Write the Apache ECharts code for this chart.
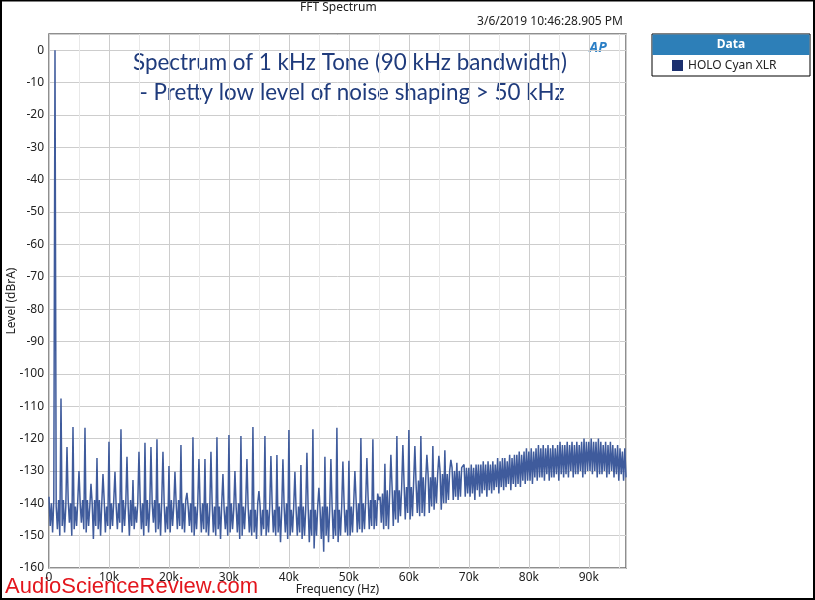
<!DOCTYPE html>
<html>
<head>
<meta charset="utf-8">
<title>FFT Spectrum</title>
<script src="https://cdn.jsdelivr.net/npm/echarts/dist/echarts.min.js"></script>
<style>
  html, body { margin: 0; padding: 0; background: #fff; }
  #chart { width: 815px; height: 600px; }
</style>
</head>
<body>
<div id="chart"></div>
<script>
// FFT of a 1 kHz tone, levels in dBrA, one value every 200 Hz
const binHz = 200
const yTicks = [-160, -150, -140, -130, -120, -110, -100, -90, -80, -70, -60, -50, -40, -30, -20, -10, 0]
const xTicks = ['0', '10k', '20k', '30k', '40k', '50k', '60k', '70k', '80k', '90k']

// noise floor (10 bins = 2 kHz per row)
const noiseFloor = [
  -138, -147, -140, -149, -139, -146, -141, -148, -139, -150,
  -140, -147, -139, -149, -141, -148, -139, -146, -140, -150,
  -139, -148, -141, -147, -139, -150, -140, -146, -139, -148,
  -140, -149, -139, -147, -141, -148, -140, -151, -139, -147,
  -141, -148, -139, -150, -140, -146, -139, -149, -141, -147,
  -139, -148, -140, -147, -139, -150, -141, -148, -140, -146,
  -140, -149, -139, -147, -140, -148, -141, -150, -139, -147,
  -139, -148, -141, -146, -140, -149, -139, -148, -140, -150,
  -140, -147, -139, -149, -141, -148, -140, -146, -139, -149,
  -141, -148, -140, -150, -139, -147, -140, -149, -141, -148,
  -140, -149, -139, -147, -141, -150, -140, -148, -139, -147,
  -141, -148, -140, -149, -139, -151, -141, -147, -140, -149,
  -140, -150, -141, -148, -140, -147, -141, -149, -140, -148,
  -141, -149, -140, -150, -142, -148, -140, -149, -141, -150,
  -140, -148, -141, -151, -140, -149, -142, -148, -141, -150,
  -141, -149, -140, -148, -142, -150, -141, -149, -140, -151,
  -142, -150, -141, -148, -140, -152, -141, -149, -142, -150,
  -141, -149, -142, -151, -140, -149, -141, -150, -142, -148,
  -141, -150, -142, -149, -141, -151, -140, -149, -142, -150,
  -142, -149, -141, -152, -142, -150, -141, -149, -140, -151,
  -141, -150, -142, -149, -141, -153, -142, -150, -141, -149,
  -142, -151, -141, -150, -142, -149, -141, -152, -142, -150,
  -141, -154, -142, -150, -141, -149, -142, -151, -141, -155,
  -142, -150, -141, -152, -142, -149, -141, -151, -142, -150,
  -141, -152, -142, -150, -141, -151, -140, -149, -142, -150,
  -140, -150, -141, -149, -140, -151, -139, -149, -140, -148,
  -139, -149, -140, -148, -139, -150, -138, -148, -139, -147,
  -138, -148, -139, -147, -137, -149, -138, -146, -137, -148,
  -137, -147, -136, -148, -137, -146, -135, -147, -136, -145,
  -135, -146, -136, -144, -135, -146, -134, -145, -135, -143,
  -134, -145, -135, -144, -133, -145, -134, -143, -133, -144,
  -133, -143, -132, -144, -133, -142, -131, -143, -132, -141,
  -131, -142, -132, -140, -131, -141, -130, -142, -131, -140,
  -130, -140, -131, -139, -130, -141, -129, -139, -130, -138,
  -129, -139, -130, -138, -129, -140, -128, -138, -129, -137,
  -129, -138, -128, -137, -129, -139, -128, -136, -128, -138,
  -128, -137, -127, -136, -128, -138, -127, -136, -128, -137,
  -127, -136, -128, -135, -126, -137, -127, -135, -126, -136,
  -126, -135, -127, -134, -125, -136, -126, -134, -125, -135,
  -125, -134, -124, -135, -125, -133, -124, -134, -123, -133,
  -124, -133, -123, -134, -124, -132, -123, -133, -122, -132,
  -123, -132, -122, -133, -123, -131, -122, -133, -123, -132,
  -122, -132, -123, -131, -122, -133, -121, -131, -122, -132,
  -122, -131, -121, -132, -122, -130, -121, -132, -122, -131,
  -121, -131, -122, -130, -121, -132, -120, -131, -121, -130,
  -121, -130, -120, -131, -121, -130, -121, -132, -120, -131,
  -121, -131, -122, -130, -121, -132, -122, -131, -121, -130,
  -122, -132, -123, -131, -122, -133, -123, -131, -124, -133,
  -123, -132
]

// level at each multiple of 1 kHz (1k .. 69k), fundamental first
const harmonics = [
  0, -107.6, -122.6, -116.4, -130, -116.7, -134, -126, -131, -121,
  -130.3, -117.1, -125.6, -132.8, -124.1, -121.3, -122.6, -120.2, -124.1, -128.5,
  -130.3, -122, -136.8, -119.6, -126.3, -126.3, -124.1, -119.6, -131, -118.9,
  -130, -119.2, -126.3, -116.4, -136.2, -119.2, -125.4, -125.1, -126.4, -117.4,
  -130.3, -128.2, -124.4, -117.1, -135.2, -125.6, -126.3, -116.7, -127.1, -126.9,
  -130, -119.8, -126, -120.2, -139, -127.8, -125, -119.2, -122, -117.4,
  -122.3, -119.2, -125, -122.3, -125.3, -123.6, -126.6, -127.5, -128.5
]

const spectrum = noiseFloor.map((v, i) => {
  const f = i * binHz
  const k = f / 1000
  if (i % 5 === 0 && k >= 1 && k <= harmonics.length) {
    return [f, harmonics[k - 1]]
  }
  return [f, v]
})

const chart = echarts.init(document.getElementById('chart'))
const font = '"Noto Sans", "DejaVu Sans", sans-serif'

chart.setOption({
  animation: false,
  backgroundColor: '#fff',
  grid: {
    left: 49,
    top: 34,
    right: 189,
    bottom: 32,
    outerBoundsMode: 'none',
    containLabel: false,
    show: true,
    borderColor: '#6b6b6b',
    borderWidth: 1.5
  },
  xAxis: {
    type: 'value',
    min: 0,
    max: 96200,
    interval: 10000,
    name: 'Frequency (Hz)',
    nameLocation: 'middle',
    nameGap: 16,
    nameMoveOverlap: false,
    nameTextStyle: { color: '#222', fontSize: 12, fontFamily: font },
    axisLine: { show: false },
    axisTick: { show: false },
    axisLabel: {
      color: '#222',
      fontSize: 12,
      fontFamily: font,
      margin: 4,
      showMaxLabel: false,
      formatter: v => xTicks[Math.round(v / 10000)] || ''
    },
    splitLine: { lineStyle: { color: '#cdcdcd', width: 1 } },
    minorTick: { show: false, splitNumber: 2 },
    minorSplitLine: { show: true, lineStyle: { color: '#e8e8e8', width: 1 } }
  },
  yAxis: {
    type: 'value',
    min: yTicks[0],
    max: 5,
    interval: 10,
    name: 'Level (dBrA)',
    nameLocation: 'middle',
    nameGap: 31,
    nameRotate: 90,
    nameMoveOverlap: false,
    nameTextStyle: { color: '#222', fontSize: 12, fontFamily: font },
    axisLine: { show: false },
    axisTick: { show: false },
    axisLabel: {
      color: '#222',
      fontSize: 12,
      fontFamily: font,
      margin: 5,
      showMaxLabel: false,
      formatter: v => (yTicks.indexOf(v) >= 0 ? String(v) : '')
    },
    splitLine: { lineStyle: { color: '#cdcdcd', width: 1 } }
  },
  series: [
    {
      name: 'HOLO Cyan XLR',
      type: 'line',
      data: spectrum,
      showSymbol: false,
      clip: true,
      lineStyle: { color: '#3f5b9c', width: 1.5 },
      emphasis: { disabled: true }
    }
  ],
  graphic: [
    // outer frame
    { type: 'rect', shape: { x: 1, y: 0.5, width: 813, height: 598.5 }, style: { fill: 'none', stroke: '#000', lineWidth: 2 }, silent: true },
    { type: 'text', left: 300, top: 2, style: { text: 'FFT Spectrum', fill: '#222', font: '12px ' + font } },
    { type: 'text', right: 192, top: 16, style: { text: '3/6/2019 10:46:28.905 PM', fill: '#222', font: '12px ' + font } },
    // annotation
    { type: 'text', x: 350, y: 63, style: { text: 'Spectrum of 1 kHz Tone (90 kHz bandwidth)', fill: '#1f3b7c', font: '22.4px Lato, "Open Sans", sans-serif', textAlign: 'center', textVerticalAlign: 'middle' } },
    { type: 'text', x: 352, y: 93, style: { text: '- Pretty low level of noise shaping > 50 kHz', fill: '#1f3b7c', font: '22.4px Lato, "Open Sans", sans-serif', textAlign: 'center', textVerticalAlign: 'middle' } },
    { type: 'text', x: 598, y: 48, style: { text: 'AP', fill: '#2b7fc6', font: 'italic bold 14px ' + font, textAlign: 'center', textVerticalAlign: 'middle' } },
    // legend panel
    { type: 'rect', shape: { x: 652, y: 34, width: 158, height: 42 }, style: { fill: '#fff', stroke: '#000', lineWidth: 1 } },
    { type: 'rect', shape: { x: 652.5, y: 34.5, width: 157, height: 20.5 }, style: { fill: '#2d7fb8' } },
    { type: 'text', x: 731, y: 45, style: { text: 'Data', fill: '#fff', font: 'bold 12px ' + font, textAlign: 'center', textVerticalAlign: 'middle' } },
    { type: 'rect', shape: { x: 672, y: 60, width: 11, height: 11 }, style: { fill: '#1b2f6e' } },
    { type: 'text', x: 688, y: 66, style: { text: 'HOLO Cyan XLR', fill: '#222', font: '12px ' + font, textVerticalAlign: 'middle' } },
    // watermark
    { type: 'text', x: 5, y: 598, style: { text: 'AudioScienceReview.com', fill: '#e3161d', font: '22px "Liberation Sans", Arial, sans-serif', textVerticalAlign: 'bottom' } }
  ]
})
</script>
</body>
</html>
